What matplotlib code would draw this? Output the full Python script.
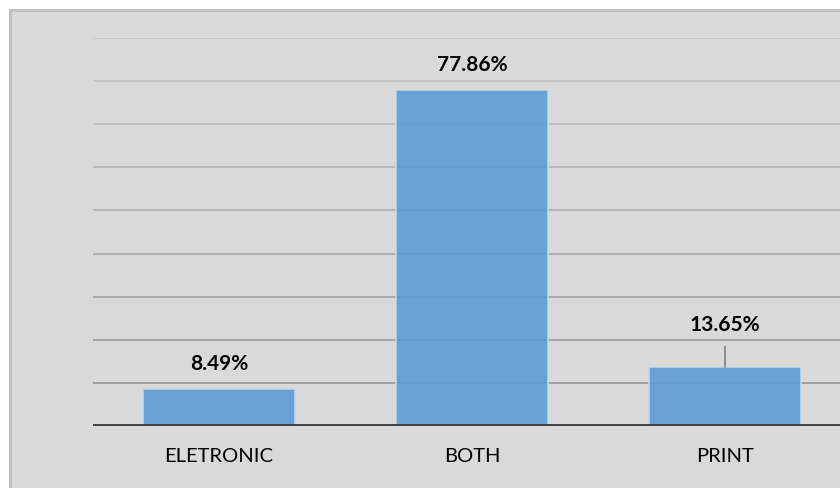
import numpy as np
import matplotlib
matplotlib.use("Agg")
from matplotlib import pyplot as plt
from matplotlib.patches import Rectangle

categories = ["ELETRONIC", "BOTH", "PRINT"]
shares = [8.49, 77.86, 13.65]
grid_levels = [10, 20, 30, 40, 50, 60, 70, 80, 90]

plt.rcParams['font.family'] = ['Lato', 'DejaVu Sans']

fig = plt.figure(figsize=(8.4, 4.88), dpi=100)
fig.patch.set_facecolor('white')

# chart area panel with its thin border, kept behind the axes
panel = Rectangle((10 / 840, -0.05), 1.0, (478 / 488) + 0.05,
                  transform=fig.transFigure, facecolor='#d9d9d9',
                  edgecolor='#bfbfbf', linewidth=2, zorder=-10)
fig.add_artist(panel)

ax = fig.add_axes([92.5 / 840, (488 - 426) / 488, 759 / 840, 388 / 488])
ax.set_zorder(1)
ax.set_facecolor('none')
ax.set_xlim(-0.5, 2.5)
ax.set_ylim(0, 90)

# gridlines get darker towards the base line
greys = np.linspace(0.79, 0.60, len(grid_levels))[::-1]
for lvl, g in zip(grid_levels, greys):
    ax.axhline(lvl, color=(g, g, g), linewidth=1.3, zorder=1)

x = np.arange(len(categories))
ax.bar(x, shares, width=0.6, color='#5b9bd5', alpha=0.9,
       edgecolor='#c5dbef', linewidth=1.2, zorder=2)

ax.axhline(0, color='#404040', linewidth=2.8, zorder=3)

for i, v in enumerate(shares):
    if categories[i] == "PRINT":
        ax.annotate(f"{v:.2f}%", xy=(i, v), xytext=(0, 30), textcoords='offset points',
                    ha='center', va='center', fontsize=15, fontweight='bold',
                    arrowprops=dict(arrowstyle='-', color='#7f7f7f', lw=1.2,
                                    shrinkA=6, shrinkB=0), zorder=4)
    else:
        ax.annotate(f"{v:.2f}%", xy=(i, v), xytext=(0, 18), textcoords='offset points',
                    ha='center', va='center', fontsize=15, fontweight='bold', zorder=4)

ax.set_xticks(x)
ax.set_xticklabels(categories, fontsize=14.5)
ax.tick_params(axis='x', length=0, pad=16)
ax.set_yticks([])
for s in ax.spines.values():
    s.set_visible(False)

fig.savefig("out.png", dpi=100)
